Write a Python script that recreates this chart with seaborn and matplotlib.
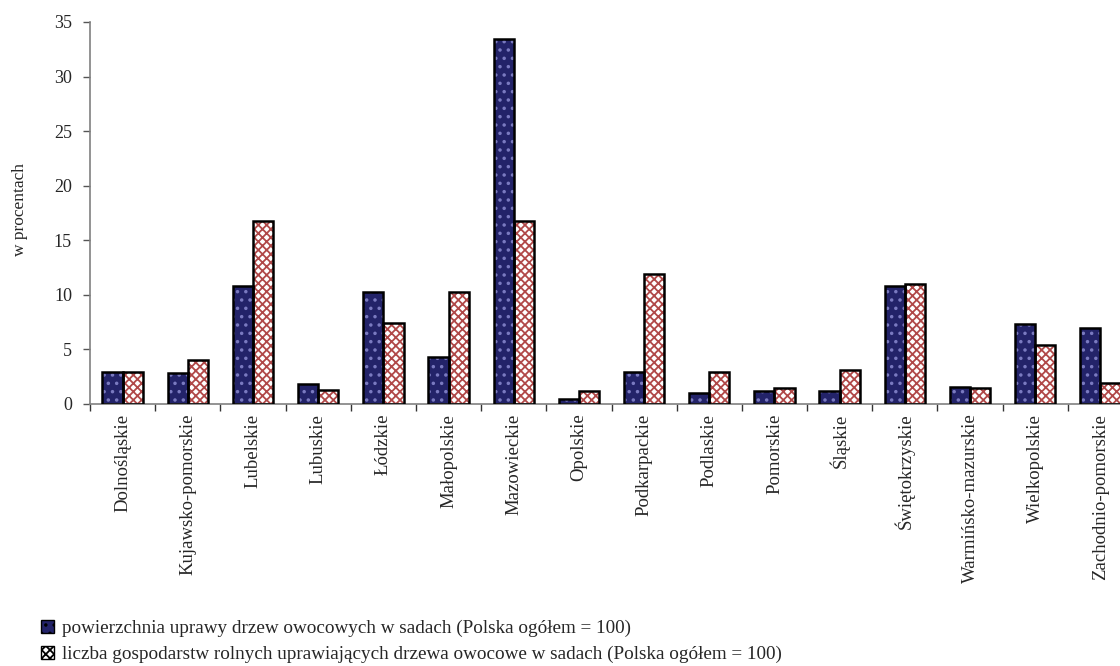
import numpy as np
import pandas as pd
import matplotlib
matplotlib.use('Agg')
import matplotlib.pyplot as plt
from matplotlib.patches import Rectangle, Patch
import seaborn as sns

regions = ['Dolnośląskie', 'Kujawsko-pomorskie', 'Lubelskie', 'Lubuskie', 'Łódzkie',
           'Małopolskie', 'Mazowieckie', 'Opolskie', 'Podkarpackie', 'Podlaskie',
           'Pomorskie', 'Śląskie', 'Świętokrzyskie', 'Warmińsko-mazurskie',
           'Wielkopolskie', 'Zachodnio-pomorskie']
powierzchnia = [2.9, 2.8, 10.8, 1.8, 10.3, 4.3, 33.4, 0.5, 2.9, 1.0, 1.2, 1.2, 10.8, 1.6, 7.3, 7.0]
gospodarstwa = [2.9, 4.0, 16.8, 1.3, 7.4, 10.3, 16.8, 1.2, 11.9, 2.9, 1.5, 3.1, 11.0, 1.5, 5.4, 1.9]
series_names = ['powierzchnia uprawy drzew owocowych w sadach (Polska ogółem = 100)',
                'liczba gospodarstw rolnych uprawiających drzewa owocowe w sadach (Polska ogółem = 100)']
y_ticks = [0, 5, 10, 15, 20, 25, 30, 35]

df = pd.DataFrame({'Województwo': regions * 2,
                   'Wartość': powierzchnia + gospodarstwa,
                   'Seria': [series_names[0]] * len(regions) + [series_names[1]] * len(regions)})

sns.set_style('white')
plt.rcParams['font.family'] = ['Liberation Serif', 'DejaVu Serif']
plt.rcParams['hatch.linewidth'] = 1.3

fill_colors = ['#232369', '#ffffff']
hatch_colors = ['#7a7ac0', '#b04848']
hatches = ['..', 'xxxx']

fig = plt.figure(figsize=(11.2, 6.66), dpi=100)
ax = fig.add_axes([90 / 1120, 262 / 666, 1043 / 1120, 382 / 666])

sns.barplot(data=df, x='Województwo', y='Wartość', hue='Seria', hue_order=series_names,
            palette=fill_colors, width=0.62, gap=0, ax=ax, legend=False, saturation=1)

for i, cont in enumerate(ax.containers):
    for p in cont:
        p.set_hatch(hatches[i])
        p.set_edgecolor(hatch_colors[i])
        p.set_linewidth(0)
        ax.add_patch(Rectangle(p.get_xy(), p.get_width(), p.get_height(),
                               fill=False, edgecolor='black', linewidth=1.8, zorder=3))

ax.set_xlim(-0.5, len(regions) - 0.5)
ax.set_ylim(0, 35)
ax.set_yticks(y_ticks)
ax.set_yticklabels([str(t) for t in y_ticks], fontsize=13)
ax.set_xticks(np.arange(len(regions)))
ax.set_xticklabels(regions, rotation=90, fontsize=13.5)
ax.set_xticks(np.arange(-0.5, len(regions), 1), minor=True)
ax.tick_params(axis='x', which='major', length=0, pad=7)
ax.tick_params(axis='x', which='minor', length=5, width=1, color='#333333', direction='out', bottom=True)
ax.tick_params(axis='y', length=5, width=1, color='#555555', direction='out', left=True, pad=8)

ax.set_xlabel('')
ax.set_ylabel('w procentach', fontsize=12.5)
ax.yaxis.set_label_coords(-0.059, 0.51)

for s in ['top', 'right']:
    ax.spines[s].set_visible(False)
for s in ['left', 'bottom']:
    ax.spines[s].set_color('#808080')
    ax.spines[s].set_linewidth(1.2)

handles = [Patch(facecolor=fill_colors[i], edgecolor=hatch_colors[i], hatch=hatches[i], linewidth=0)
           for i in range(2)]
leg = fig.legend(handles, series_names, loc='lower left', bbox_to_anchor=(24 / 1120, -0.022),
                 frameon=False, fontsize=13.8, handlelength=0.65, handleheight=0.65,
                 handletextpad=0.45, labelspacing=0.45)
for h in leg.legend_handles:
    h.set_edgecolor('black')
    h.set_linewidth(1)

fig.savefig('out.png', dpi=100)
